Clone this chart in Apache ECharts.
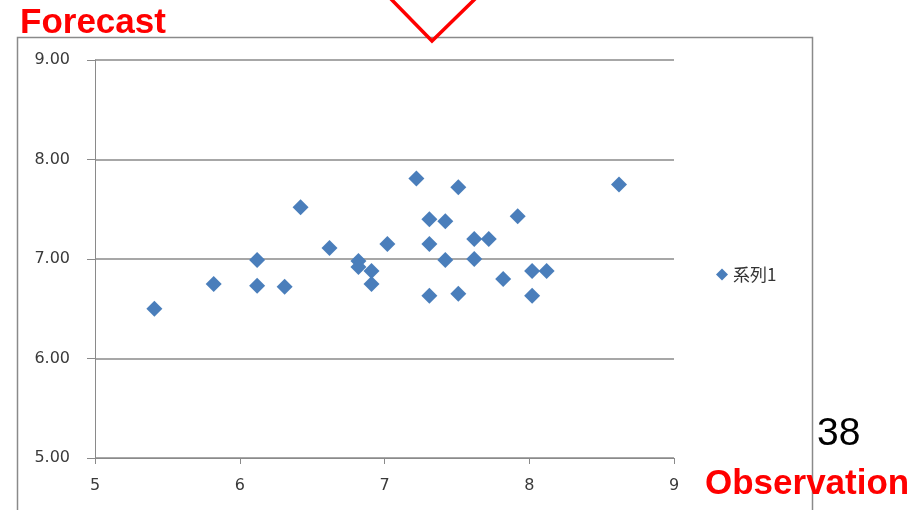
<!DOCTYPE html>
<html>
<head>
<meta charset="utf-8">
<script src="https://cdn.jsdelivr.net/npm/echarts@6/dist/echarts.min.js"></script>
<style>
html,body{margin:0;padding:0;background:#fff;}
#c{width:921px;height:510px;}
</style>
</head>
<body>
<div id="c"></div>
<script>
const seriesName = '系列1';
const observation = [5.41, 5.82, 6.12, 6.12, 6.31, 6.42, 6.62, 6.82, 6.82, 6.91, 6.91, 7.02, 7.22, 7.31, 7.31, 7.31, 7.42, 7.42, 7.51, 7.51, 7.62, 7.62, 7.72, 7.82, 7.92, 8.02, 8.02, 8.12, 8.62];
const forecast    = [6.50, 6.75, 6.99, 6.73, 6.72, 7.52, 7.11, 6.98, 6.92, 6.88, 6.75, 7.15, 7.81, 7.40, 7.15, 6.63, 7.38, 6.99, 7.72, 6.65, 7.20, 7.00, 7.20, 6.80, 7.43, 6.88, 6.63, 6.88, 7.75];
const xTicks = [5, 6, 7, 8, 9];
const yTicks = [5, 6, 7, 8, 9];

const points = observation.map((x, i) => [x, forecast[i]]);
const gray = '#8a8a8a';

const chart = echarts.init(document.getElementById('c'));
chart.setOption({
  animation: false,
  backgroundColor: '#fff',
  grid: { left: 95, top: 60, right: 247, bottom: 52, containLabel: false },
  xAxis: {
    type: 'value',
    min: xTicks[0], max: xTicks[xTicks.length - 1], interval: 1,
    axisLine: { show: true, onZero: false, lineStyle: { color: gray, width: 1 } },
    axisTick: { show: true, length: 6, lineStyle: { color: gray } },
    splitLine: { show: false },
    axisLabel: { margin: 20, color: '#3a3a3a', fontSize: 16, fontFamily: 'DejaVu Sans' }
  },
  yAxis: {
    type: 'value',
    min: yTicks[0], max: yTicks[yTicks.length - 1], interval: 1,
    axisLine: { show: true, onZero: false, lineStyle: { color: gray, width: 1 } },
    axisTick: { show: true, length: 8, lineStyle: { color: gray } },
    splitLine: { show: true, lineStyle: { color: gray, width: 1.5 } },
    axisLabel: { margin: 25, color: '#3a3a3a', fontSize: 16, fontFamily: 'DejaVu Sans',
      formatter: v => v.toFixed(2) }
  },
  legend: {
    data: [seriesName],
    left: 711, top: 261,
    icon: 'diamond', itemWidth: 12, itemHeight: 12, itemGap: 4,
    textStyle: { fontSize: 17, color: '#333', fontFamily: 'Noto Sans CJK JP' }
  },
  series: [{
    name: seriesName,
    type: 'scatter',
    symbol: 'diamond',
    symbolSize: 16,
    itemStyle: { color: '#4a7ebb', opacity: 1 },
    data: points
  }],
  graphic: [
    { type: 'rect', shape: { x: 17.5, y: 37.5, width: 795, height: 500 },
      style: { fill: 'none', stroke: gray, lineWidth: 1.5 }, z: -1 },
    { type: 'polyline', shape: { points: [[390, -2], [432, 41], [476, -2]] },
      style: { fill: 'none', stroke: '#ff0000', lineWidth: 3.5 }, z: 10 },
    { type: 'text', left: 20, top: 6,
      style: { text: 'Forecast', fill: '#ff0000', font: 'bold 35px "Liberation Sans", Arial, sans-serif' }, z: 10 },
    { type: 'text', left: 705, top: 467,
      style: { text: 'Observation', fill: '#ff0000', font: 'bold 35px "Liberation Sans", Arial, sans-serif' }, z: 10 },
    { type: 'text', left: 817, top: 415,
      style: { text: '38', fill: '#000', font: '39px "Liberation Sans", Arial, sans-serif' }, z: 10 }
  ]
});
</script>
</body>
</html>
